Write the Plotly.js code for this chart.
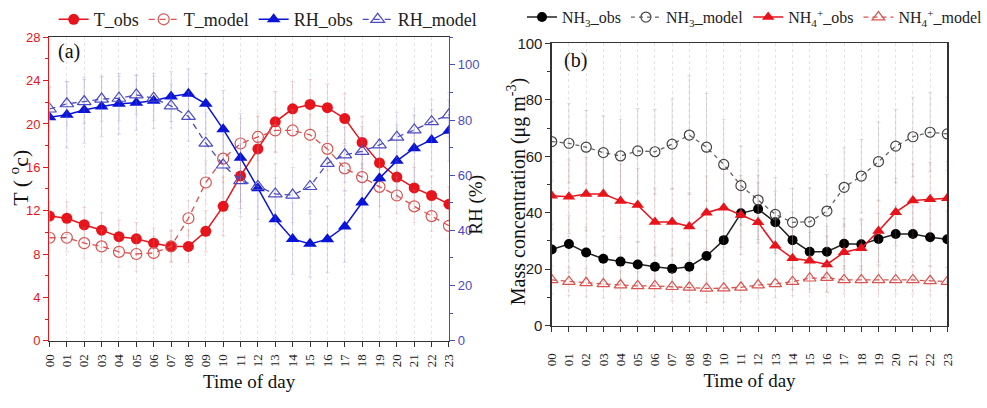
<!DOCTYPE html>
<html>
<head>
<meta charset="utf-8">
<script src="https://cdn.plot.ly/plotly-3.0.1.min.js"></script>
<style>html,body{margin:0;padding:0;background:#fff;}#chart{width:987px;height:408px;}</style>
</head>
<body>
<div id="chart"></div>
<script>
var hours = [0,1,2,3,4,5,6,7,8,9,10,11,12,13,14,15,16,17,18,19,20,21,22,23];
var hourLabels = ["00","01","02","03","04","05","06","07","08","09","10","11","12","13","14","15","16","17","18","19","20","21","22","23"];

// Panel (a)
var T_obs   = [11.5,11.3,10.7,10.2,9.6,9.4,9.0,8.7,8.7,10.1,12.4,15.2,17.7,20.2,21.4,21.8,21.5,20.5,18.3,16.4,15.1,14.1,13.4,12.6];
var T_model = [9.5,9.5,9.0,8.7,8.2,8.0,8.1,8.7,11.3,14.6,16.8,18.2,18.8,19.4,19.4,19.0,17.7,15.9,15.1,14.2,13.4,12.4,11.5,10.6];
var RH_obs  = [81.0,81.9,83.6,84.9,85.9,86.3,87.0,88.5,89.5,85.9,76.7,66.3,55.3,44.0,36.9,35.1,36.8,41.4,50.1,58.9,65.2,69.8,72.8,76.1];
var RH_model= [84.0,85.9,86.7,87.6,87.9,89.1,87.9,85.1,81.3,71.6,63.7,58.0,55.9,53.2,52.8,55.9,64.3,67.4,68.6,71.0,73.8,76.4,79.4,81.9];
var T_obs_err   = [1.3,1.5,1.6,1.6,1.5,1.5,1.4,1.5,1.5,1.9,2.7,3.0,3.0,2.8,2.5,2.3,2.2,2.3,2.4,2.2,2.0,1.9,1.8,1.6];
var T_model_err = [1.2,1.3,1.4,1.5,1.4,1.6,1.5,1.4,1.6,2.0,2.2,2.3,2.2,2.0,1.9,1.9,2.0,2.1,2.0,1.8,1.7,1.5,1.4,1.3];
var RH_obs_err  = [11,12,12,11,11,10,10,9,9,11,14,16,17,15,13,12,12,13,14,14,13,12,11,11];
var RH_model_err= [8,8,8,8,8,7,8,8,9,11,12,13,12,11,10,10,10,10,9,9,9,8,8,8];

// Panel (b)
var NH3_obs   = [27.0,28.9,25.9,23.7,22.7,21.7,20.9,20.2,20.9,24.7,30.3,39.8,41.3,36.6,30.3,26.2,26.2,29.0,28.8,30.7,32.5,32.5,31.3,30.6];
var NH3_model = [65.2,64.6,63.2,61.3,60.1,61.9,61.6,64.3,67.5,63.2,57.1,49.6,44.5,39.4,36.6,36.8,40.6,49.0,53.0,58.1,63.6,66.9,68.5,67.9];
var NH4_obs   = [46.0,45.7,46.6,46.6,44.2,42.7,36.7,36.7,35.1,40.0,41.8,39.2,36.6,28.3,23.9,23.0,21.7,26.0,27.4,33.5,40.2,44.3,44.8,45.1];
var NH4_model = [16.2,15.6,15.2,14.8,14.4,14.1,14.1,13.8,13.6,13.2,13.3,13.6,14.4,14.8,15.6,16.8,17.0,16.2,16.2,16.2,16.2,16.2,15.9,15.6];
var NH3_obs_err   = [9,10,9,8,8,8,7,7,8,9,11,12,12,11,10,9,9,9,9,9,10,10,10,10];
var NH3_model_err = [14,14,13,13,13,15,15,16,21,19,16,14,14,13,12,12,13,14,13,14,13,14,14,13];
var NH4_obs_err   = [12,13,13,13,13,13,12,12,12,13,14,14,14,12,11,10,10,10,10,11,12,13,13,13];
var NH4_model_err = [5,5,5,5,5,5,4,5,5,5,5,5,5,5,5,5,5,5,5,5,5,5,5,5];

var RED = '#e8141c', RED2 = '#d9534f', BLUE = '#0a14d8', BLUE2 = '#4b4bc4';
var serif = 'Liberation Serif, Times New Roman, serif';
var sans = 'Liberation Sans, Arial, sans-serif';

function tr(y, opts) {
  return Object.assign({x: hours, y: y, type: 'scatter', mode: 'lines+markers'}, opts);
}
function eb(arr, col) {
  return {type: 'data', array: arr, visible: true, thickness: 1, width: 2, color: col};
}

var data = [
  tr(T_obs, {name: 'T_obs', xaxis: 'x', yaxis: 'y', legend: 'legend',
    line: {color: RED, width: 1.5}, marker: {symbol: 'circle', size: 11, color: RED},
    error_y: eb(T_obs_err, 'rgba(220,120,120,0.3)')}),
  tr(T_model, {name: 'T_model', xaxis: 'x', yaxis: 'y', legend: 'legend',
    line: {color: RED2, width: 1.3, dash: '6px,5px'}, marker: {symbol: 'circle-open', size: 11, color: RED2, line: {width: 1.2}},
    error_y: eb(T_model_err, 'rgba(220,140,140,0.25)')}),
  tr(RH_obs, {name: 'RH_obs', xaxis: 'x', yaxis: 'y2', legend: 'legend',
    line: {color: BLUE, width: 1.5}, marker: {symbol: 'triangle-up', size: 12, color: BLUE},
    error_y: eb(RH_obs_err, 'rgba(120,120,200,0.25)')}),
  tr(RH_model, {name: 'RH_model', xaxis: 'x', yaxis: 'y2', legend: 'legend',
    line: {color: BLUE2, width: 1.3, dash: '6px,5px'}, marker: {symbol: 'triangle-up-open', size: 12, color: BLUE2, line: {width: 1.2}},
    error_y: eb(RH_model_err, 'rgba(140,140,200,0.25)')}),

  tr(NH3_obs, {name: 'NH<sub>3</sub>_obs', xaxis: 'x3', yaxis: 'y3', legend: 'legend2',
    line: {color: '#222', width: 1.5}, marker: {symbol: 'circle', size: 10, color: '#000'},
    error_y: eb(NH3_obs_err, 'rgba(140,140,140,0.25)')}),
  tr(NH3_model, {name: 'NH<sub>3</sub>_model', xaxis: 'x3', yaxis: 'y3', legend: 'legend2',
    line: {color: '#666', width: 1.3, dash: '4px,4px'}, marker: {symbol: 'circle-open', size: 10, color: '#444', line: {width: 1.2}},
    error_y: eb(NH3_model_err, 'rgba(150,150,150,0.3)')}),
  tr(NH4_obs, {name: 'NH<sub>4</sub><sup>+</sup>_obs', xaxis: 'x3', yaxis: 'y3', legend: 'legend2',
    line: {color: RED, width: 1.5}, marker: {symbol: 'triangle-up', size: 11, color: RED},
    error_y: eb(NH4_obs_err, 'rgba(200,120,120,0.25)')}),
  tr(NH4_model, {name: 'NH<sub>4</sub><sup>+</sup>_model', xaxis: 'x3', yaxis: 'y3', legend: 'legend2',
    line: {color: RED2, width: 1.3, dash: '5px,4px'}, marker: {symbol: 'triangle-up-open', size: 11, color: RED2, line: {width: 1.2}},
    error_y: eb(NH4_model_err, 'rgba(200,140,140,0.25)')})
];

var xCommon = {
  range: [0, 23], tickmode: 'array', tickvals: hours, ticktext: hourLabels, tickangle: -90,
  ticks: 'outside', ticklen: 5, tickcolor: '#333', showline: true, linecolor: '#333', linewidth: 1.3,
  mirror: true, showgrid: true, gridcolor: 'rgba(180,180,200,0.35)', griddash: 'dot', gridwidth: 1,
  zeroline: false, tickfont: {family: serif, size: 13, color: '#222'},
  title: {text: 'Time of day', font: {family: serif, size: 19, color: '#111'}, standoff: 8}
};

function ann(text, px, py, size, angle, color) {
  return {text: text, xref: 'paper', yref: 'paper', x: px / 987, y: 1 - py / 408,
    xanchor: 'center', yanchor: 'middle', showarrow: false, textangle: angle || 0,
    font: {family: serif, size: size, color: color || '#111'}};
}

var layout = {
  width: 987, height: 408,
  margin: {l: 0, r: 0, t: 0, b: 0},
  paper_bgcolor: '#fff', plot_bgcolor: '#fff',
  showlegend: true,
  xaxis: Object.assign({}, xCommon, {domain: [0.0507, 0.460], anchor: 'y', ticklabelstandoff: 2}),
  yaxis: {
    domain: [0.165, 0.9086], range: [0, 28], tickvals: [0,4,8,12,16,20,24,28], anchor: 'x',
    ticks: 'outside', ticklen: 5, tickcolor: RED, showline: true, linecolor: RED, linewidth: 1.3,
    minor: {ticks: 'outside', ticklen: 3, dtick: 2, tickcolor: RED},
    showgrid: false, zeroline: false, tickfont: {family: sans, size: 13, color: RED}
  },
  yaxis2: {
    overlaying: 'y', side: 'right', anchor: 'x', range: [0, 110], tickvals: [0,20,40,60,80,100],
    ticks: 'outside', ticklen: 5, tickcolor: BLUE2, showline: true, linecolor: BLUE2, linewidth: 1.3,
    minor: {ticks: 'outside', ticklen: 3, dtick: 10, tickcolor: BLUE2},
    showgrid: false, zeroline: false, tickfont: {family: sans, size: 13, color: BLUE2}
  },
  xaxis3: Object.assign({}, xCommon, {domain: [0.5653, 0.9706], anchor: 'y3', ticklabelstandoff: 16,
    gridcolor: 'rgba(200,170,170,0.35)'}),
  yaxis3: {
    domain: [0.2017, 0.8939], range: [0, 100], tickvals: [0,20,40,60,80,100], anchor: 'x3',
    ticks: 'outside', ticklen: 5, tickcolor: '#333', showline: true, linecolor: '#333', linewidth: 1.3, mirror: true,
    minor: {ticks: 'outside', ticklen: 3, dtick: 10, tickcolor: '#333'},
    showgrid: false, zeroline: false, tickfont: {family: sans, size: 15, color: '#222'}
  },
  legend: {orientation: 'h', x: 0.055, xanchor: 'left', y: 0.952, yanchor: 'middle',
    font: {family: serif, size: 18, color: '#222'}, bgcolor: 'rgba(0,0,0,0)', itemwidth: 30},
  legend2: {orientation: 'h', x: 0.535, xanchor: 'left', y: 0.958, yanchor: 'middle',
    font: {family: serif, size: 16, color: '#222'}, bgcolor: 'rgba(0,0,0,0)', itemwidth: 30},
  annotations: [
    {text: '(a)', xref: 'paper', yref: 'paper', x: 57 / 987, y: 1 - 38 / 408, xanchor: 'left', yanchor: 'top', showarrow: false,
      font: {family: serif, size: 20, color: '#111'}},
    {text: '(b)', xref: 'paper', yref: 'paper', x: 568 / 987, y: 1 - 47 / 408, xanchor: 'left', yanchor: 'top', showarrow: false,
      font: {family: serif, size: 20, color: '#111'}},
    ann('T ( <sup>o</sup>c)', 19, 178, 22, -90),
    ann('RH (%)', 481, 205, 19, -90),
    ann('Mass concentration (μg m<sup>-3</sup>)', 522, 192, 20, -90)
  ]
};

Plotly.newPlot('chart', data, layout, {displayModeBar: false, staticPlot: true});
</script>
</body>
</html>
